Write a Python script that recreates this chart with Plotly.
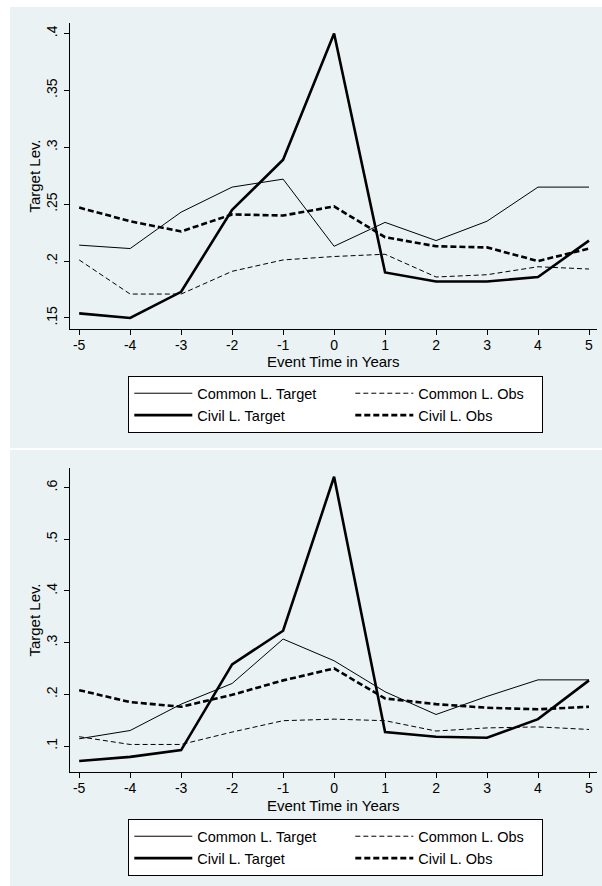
import plotly.graph_objects as go

# ---------------- data ----------------
years = [-5, -4, -3, -2, -1, 0, 1, 2, 3, 4, 5]
x_ticks = [-5, -4, -3, -2, -1, 0, 1, 2, 3, 4, 5]
x_ticktext = ["-5", "-4", "-3", "-2", "-1", "0", "1", "2", "3", "4", "5"]

series_names = ["Common L. Target", "Common L. Obs", "Civil L. Target", "Civil L. Obs"]

# top panel
top_common_target = [0.214, 0.211, 0.243, 0.265, 0.272, 0.213, 0.234, 0.218, 0.235, 0.265, 0.265]
top_common_obs = [0.201, 0.171, 0.171, 0.191, 0.201, 0.204, 0.206, 0.186, 0.188, 0.195, 0.193]
top_civil_target = [0.154, 0.150, 0.173, 0.245, 0.289, 0.400, 0.190, 0.182, 0.182, 0.186, 0.218]
top_civil_obs = [0.247, 0.235, 0.226, 0.241, 0.240, 0.248, 0.221, 0.213, 0.212, 0.200, 0.211]
top_yticks = [0.15, 0.2, 0.25, 0.3, 0.35, 0.4]
top_yticktext = [".15", ".2", ".25", ".3", ".35", ".4"]

# bottom panel
bot_common_target = [0.114, 0.130, 0.181, 0.221, 0.307, 0.265, 0.205, 0.161, 0.196, 0.228, 0.228]
bot_common_obs = [0.118, 0.103, 0.103, 0.127, 0.149, 0.152, 0.149, 0.129, 0.135, 0.137, 0.132]
bot_civil_target = [0.071, 0.079, 0.092, 0.258, 0.323, 0.621, 0.127, 0.118, 0.116, 0.152, 0.227]
bot_civil_obs = [0.208, 0.185, 0.176, 0.199, 0.227, 0.250, 0.192, 0.181, 0.174, 0.171, 0.176]
bot_yticks = [0.1, 0.2, 0.3, 0.4, 0.5, 0.6]
bot_yticktext = [".1", ".2", ".3", ".4", ".5", ".6"]

x_title = "Event Time in Years"
y_title = "Target Lev."

# ---------------- styling ----------------
W, H = 602, 886
PANEL = "#EAF2F3"
FONT = "Liberation Sans, Arial, sans-serif"

styles = [
    dict(color="#000000", width=1.0, dash="solid"),
    dict(color="#000000", width=1.0, dash="5px,3px"),
    dict(color="#000000", width=2.6, dash="solid"),
    dict(color="#000000", width=2.6, dash="6px,3px"),
]
legend_widths = [148, 118, 148, 118]


def py(y_px):
    return 1 - y_px / H


fig = go.Figure()

panels = [
    dict(data=[top_common_target, top_common_obs, top_civil_target, top_civil_obs],
         xa="x", ya="y", legend="legend"),
    dict(data=[bot_common_target, bot_common_obs, bot_civil_target, bot_civil_obs],
         xa="x2", ya="y2", legend="legend2"),
]

for p in panels:
    for name, vals, st, lw in zip(series_names, p["data"], styles, legend_widths):
        fig.add_trace(go.Scatter(
            x=years, y=vals, name=name, mode="lines",
            line=dict(color=st["color"], width=st["width"], dash=st["dash"]),
            xaxis=p["xa"], yaxis=p["ya"], legend=p["legend"],
            legendwidth=lw, hoverinfo="skip",
        ))

xdom = [70 / W, 597 / W]

axis_common = dict(
    showline=True, linecolor="#000", linewidth=1,
    ticks="outside", ticklen=5, tickcolor="#000", tickwidth=1,
    tickfont=dict(family=FONT, size=14, color="#000"),
    zeroline=False, mirror=False,
)

xcommon = dict(axis_common, range=[-5.18, 5.157], tickvals=x_ticks, ticktext=x_ticktext,
               showgrid=False, domain=xdom, ticklabelstandoff=-2)

ycommon = dict(axis_common, tickangle=-90, showgrid=True, gridcolor=PANEL, gridwidth=1,
               ticklabelstandoff=1,
               title=dict(text=y_title, font=dict(family=FONT, size=15, color="#000"), standoff=0))

legend_common = dict(orientation="h", x=128 / W, xanchor="left", yanchor="top",
                     bgcolor="white", bordercolor="#000", borderwidth=1.3,
                     font=dict(family=FONT, size=14.5, color="#000"),
                     itemwidth=58, traceorder="normal", itemclick=False, itemdoubleclick=False)

fig.update_layout(
    width=W, height=H,
    margin=dict(l=0, r=0, t=0, b=0),
    paper_bgcolor="white", plot_bgcolor="white",
    font=dict(family=FONT, color="#000"),
    xaxis=dict(xcommon, anchor="y"),
    yaxis=dict(ycommon, range=[0.1403, 0.4092], domain=[py(329), py(23)],
               tickvals=top_yticks, ticktext=top_yticktext, anchor="x"),
    xaxis2=dict(xcommon, anchor="y2"),
    yaxis2=dict(ycommon, range=[0.0497, 0.638], domain=[py(772), py(468)],
                tickvals=bot_yticks, ticktext=bot_yticktext, anchor="x2"),
    legend=dict(legend_common, y=py(376)),
    legend2=dict(legend_common, y=py(819)),
    showlegend=True,
    shapes=[
        dict(type="rect", xref="paper", yref="paper", x0=10 / W, x1=1, y0=py(448), y1=py(7),
             fillcolor=PANEL, line=dict(width=0), layer="below"),
        dict(type="rect", xref="paper", yref="paper", x0=10 / W, x1=1, y0=0, y1=py(450),
             fillcolor=PANEL, line=dict(width=0), layer="below"),
    ],
    annotations=[
        dict(text=x_title, xref="paper", yref="paper", x=(xdom[0] + xdom[1]) / 2, y=py(361),
             xanchor="center", yanchor="middle", showarrow=False,
             font=dict(family=FONT, size=15, color="#000")),
        dict(text=x_title, xref="paper", yref="paper", x=(xdom[0] + xdom[1]) / 2, y=py(805),
             xanchor="center", yanchor="middle", showarrow=False,
             font=dict(family=FONT, size=15, color="#000")),
    ],
)

fig.write_html("out.html", config={"displayModeBar": False},
               post_script="document.body.style.margin='0px';")
